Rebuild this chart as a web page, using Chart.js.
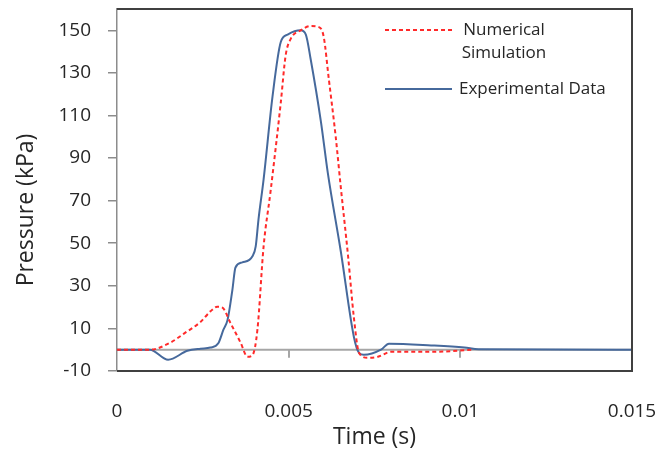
<!DOCTYPE html>
<html>
<head>
<meta charset="utf-8">
<script src="https://cdn.jsdelivr.net/npm/chart.js@4"></script>
<style>
  html, body { margin: 0; padding: 0; background: #fff; }
  #wrap { width: 660px; height: 450px; }
</style>
</head>
<body>
<div id="wrap"><canvas id="pressureChart" width="660" height="450"></canvas></div>
<script>
// Series (time in s, pressure in kPa)
const numTime = [0, 0.00096, 0.00155, 0.00199, 0.00243, 0.00272, 0.00292, 0.00307, 0.0033, 0.0036, 0.0038, 0.00395, 0.00409, 0.00427, 0.00447, 0.00477, 0.00491, 0.00506, 0.00535, 0.00564, 0.00588, 0.00602, 0.00617, 0.00637, 0.00652, 0.00673, 0.0069, 0.00705, 0.00731, 0.0076, 0.00798, 0.00915, 0.01040];
const numPressure = [0, 0, 3.3, 8, 13, 18, 20.2, 19.8, 12.7, 3.3, -3.3, -2.4, 9.4, 48.5, 74, 116, 138, 146, 150, 152, 151.5, 147, 127, 100, 76, 44, 15, -1.5, -3.8, -3.3, -1, -1, 0];

const expTime = [0, 0.00096, 0.00149, 0.00205, 0.00243, 0.00272, 0.00295, 0.0031, 0.00322, 0.00336, 0.00345, 0.00365, 0.00395, 0.00404, 0.00412, 0.00427, 0.00453, 0.00477, 0.00497, 0.00535, 0.0055, 0.00564, 0.00594, 0.00614, 0.00652, 0.0069, 0.00705, 0.00719, 0.00769, 0.00792, 0.00915, 0.01012, 0.01053, 0.015];
const expPressure = [0, 0, -4.7, -0.5, 0.5, 1, 3, 9.4, 14, 28, 38.6, 41, 44, 48.5, 61, 80, 119, 144.5, 148, 150, 148, 136.5, 107, 83, 46, 6, -1.5, -2.4, 0, 2.8, 2, 1, 0.2, 0];

const seriesLabels = [['Numerical', 'Simulation'], ['Experimental Data']];
const xTicks = [0, 0.005, 0.01, 0.015];
const yTicks = [-10, 10, 30, 50, 70, 90, 110, 130, 150];

const toPoints = (xs, ys) => xs.map((x, i) => ({ x: x, y: ys[i] }));

const FONT = "'Open Sans', 'DejaVu Sans', sans-serif";

// Axis decorations, plot frame, in-plot legend and y title
const framePlugin = {
  id: 'framePlugin',
  beforeDatasetsDraw(chart) {
    const ctx = chart.ctx;
    const area = chart.chartArea;
    const xs = chart.scales.x;
    const y0 = chart.scales.y.getPixelForValue(0);
    ctx.save();
    ctx.strokeStyle = '#a6a6a6';
    ctx.lineWidth = 2;
    ctx.beginPath();
    ctx.moveTo(area.left, y0);
    ctx.lineTo(area.right, y0);
    xTicks.slice(1).forEach(v => {
      const px = Math.round(xs.getPixelForValue(v));
      ctx.moveTo(px, y0);
      ctx.lineTo(px, y0 + 8);
    });
    ctx.stroke();
    ctx.restore();
  },
  afterDatasetsDraw(chart) {
    const ctx = chart.ctx;
    const area = chart.chartArea;
    ctx.save();
    // dark frame on top, right and bottom
    ctx.strokeStyle = '#404040';
    ctx.lineWidth = 2;
    ctx.beginPath();
    ctx.moveTo(area.left, area.top);
    ctx.lineTo(area.right, area.top);
    ctx.lineTo(area.right, area.bottom);
    ctx.lineTo(area.left, area.bottom);
    ctx.stroke();

    // legend
    const sx = area.right - 247, ex = area.right - 180, tx = area.right - 129;
    const rows = [
      { y: area.top + 21, ds: chart.data.datasets[0], lines: seriesLabels[0] },
      { y: area.top + 80, ds: chart.data.datasets[1], lines: seriesLabels[1] }
    ];
    ctx.font = '17px ' + FONT;
    ctx.fillStyle = '#262626';
    ctx.textBaseline = 'middle';
    rows.forEach(r => {
      ctx.strokeStyle = r.ds.borderColor;
      ctx.lineWidth = r.ds.borderWidth;
      ctx.setLineDash(r.ds.borderDash || []);
      ctx.beginPath();
      ctx.moveTo(sx, r.y);
      ctx.lineTo(ex, r.y);
      ctx.stroke();
      ctx.setLineDash([]);
      if (r.lines.length > 1) {
        ctx.textAlign = 'center';
        r.lines.forEach((t, i) => ctx.fillText(t, tx + 1, r.y + i * 23));
      } else {
        ctx.textAlign = 'left';
        ctx.fillText(r.lines[0], ex + 7, r.y);
      }
    });

    // y axis title
    ctx.translate(26, 210);
    ctx.rotate(-Math.PI / 2);
    ctx.textAlign = 'center';
    ctx.textBaseline = 'middle';
    ctx.font = '23px ' + FONT;
    ctx.fillText('Pressure (kPa)', 0, 0);
    ctx.restore();
  }
};

const ctx = document.getElementById('pressureChart').getContext('2d');

new Chart(ctx, {
  type: 'line',
  data: {
    datasets: [
      {
        label: seriesLabels[0].join(' '),
        data: toPoints(numTime, numPressure),
        borderColor: '#ff2a2a',
        borderWidth: 2,
        borderDash: [4, 3],
        pointRadius: 0,
        cubicInterpolationMode: 'monotone',
        fill: false
      },
      {
        label: seriesLabels[1].join(' '),
        data: toPoints(expTime, expPressure),
        borderColor: '#46699c',
        borderWidth: 2,
        pointRadius: 0,
        cubicInterpolationMode: 'monotone',
        fill: false
      }
    ]
  },
  options: {
    responsive: false,
    animation: false,
    layout: { padding: { left: 0, right: 28, top: 9, bottom: 0 } },
    plugins: {
      legend: { display: false },
      tooltip: { enabled: false }
    },
    scales: {
      x: {
        type: 'linear',
        min: 0,
        max: 0.015,
        afterBuildTicks: scale => { scale.ticks = xTicks.map(v => ({ value: v })); },
        afterFit: scale => {
          scale.height = 79;
          scale.paddingLeft = 0;
          scale.paddingRight = 0;
        },
        grid: { display: false },
        border: { display: false },
        ticks: {
          padding: 21,
          color: '#262626',
          font: { family: FONT, size: 19 },
          maxRotation: 0,
          callback: v => String(v)
        },
        title: {
          display: true,
          text: 'Time (s)',
          color: '#262626',
          font: { family: FONT, size: 23, lineHeight: 1.1 },
          padding: { top: 0, bottom: 0 }
        }
      },
      y: {
        min: -10,
        max: 160,
        afterBuildTicks: scale => { scale.ticks = yTicks.map(v => ({ value: v })); },
        afterFit: scale => {
          scale.width = 117;
          scale.paddingTop = 0;
          scale.paddingBottom = 0;
        },
        grid: {
          drawOnChartArea: false,
          drawTicks: true,
          tickLength: 9,
          color: '#8c8c8c',
          lineWidth: 1.5
        },
        border: { display: true, color: '#8c8c8c', width: 1.5 },
        ticks: {
          padding: 17,
          color: '#262626',
          font: { family: FONT, size: 19 }
        }
      }
    }
  },
  plugins: [framePlugin]
});
</script>
</body>
</html>
